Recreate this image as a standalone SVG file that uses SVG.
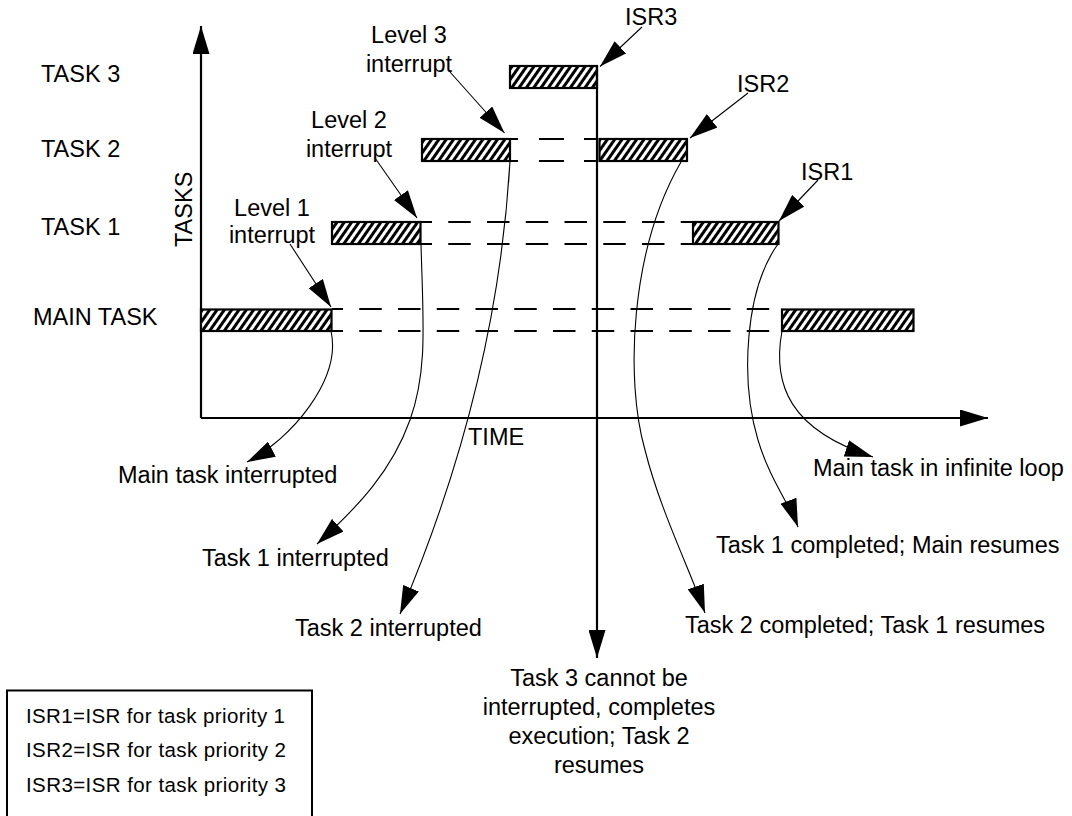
<svg xmlns="http://www.w3.org/2000/svg" width="1072" height="816" viewBox="0 0 1072 816">
<style>
text{font-family:"Liberation Sans",Arial,Helvetica,sans-serif;font-size:23.5px;fill:#000}
.leg{font-size:20.5px}
.bar{fill:url(#hatch);stroke:#000;stroke-width:2.2}
.axis{stroke:#000;stroke-width:2.2;fill:none}
.dash{stroke:#000;stroke-width:2;fill:none;stroke-dasharray:22.5 16.25;stroke-dashoffset:11.5}
.thin{stroke:#000;stroke-width:1.1;fill:none}
</style>
<defs>
<pattern id="hatch" patternUnits="userSpaceOnUse" width="6" height="6" patternTransform="rotate(35)">
<rect x="0" y="0" width="6" height="6" fill="#fff"/>
<rect x="0" y="0" width="3" height="6" fill="#000"/>
</pattern>
<marker id="ah" markerUnits="userSpaceOnUse" viewBox="0 0 28 17" markerWidth="28" markerHeight="17" refX="28" refY="8.5" orient="auto">
<path d="M0,0 L28,8.5 L0,17 z" fill="#000"/>
</marker>
</defs>

<g id="axes">
<line class="axis" x1="201" y1="418" x2="201" y2="26" marker-end="url(#ah)"/>
<line class="axis" x1="201" y1="418" x2="988" y2="418" marker-end="url(#ah)"/>
<text transform="translate(191.5,247) rotate(-90)">TASKS</text>
<text x="468" y="445">TIME</text>
</g>

<g id="labels">
<text x="41" y="82">TASK 3</text>
<text x="41" y="157">TASK 2</text>
<text x="41" y="235">TASK 1</text>
<text x="33" y="325">MAIN TASK</text>
</g>

<g id="dashed">
<path class="dash" d="M332,309 H782 M332,331 H782"/>
<path class="dash" d="M421,222 H693 M421,244 H693"/>
<path class="axis" stroke-width="2" d="M510,139 H518 M539,139 H564 M584,139 H597 M510,161 H518 M539,161 H564 M584,161 H597"/>
</g>

<g id="main-task"><rect class="bar" x="201" y="309.5" width="130.5" height="21.5"/></g>
<g id="task1"><rect class="bar" x="332" y="222" width="88.5" height="22"/></g>
<g id="task2"><rect class="bar" x="422" y="139" width="88" height="22"/></g>
<g id="task3"><rect class="bar" x="510" y="66" width="87" height="22"/></g>
<g id="task2-resumed"><rect class="bar" x="599.5" y="139" width="87.5" height="22"/></g>
<g id="task1-resumed"><rect class="bar" x="693" y="222" width="85.5" height="22"/></g>
<g id="main-resumed"><rect class="bar" x="782" y="309.5" width="131.5" height="21.5"/></g>

<g id="connectors">
<line class="axis" x1="597" y1="66" x2="597" y2="658" marker-end="url(#ah)"/>
<line class="thin" x1="450" y1="72" x2="504.5" y2="133" marker-end="url(#ah)"/>
<line class="thin" x1="375" y1="158" x2="417" y2="218" marker-end="url(#ah)"/>
<line class="thin" x1="290" y1="244" x2="331" y2="307" marker-end="url(#ah)"/>
<line class="thin" x1="642" y1="27" x2="600" y2="66.5" marker-end="url(#ah)"/>
<line class="thin" x1="748" y1="93" x2="690" y2="138" marker-end="url(#ah)"/>
<line class="thin" x1="818" y1="180" x2="779" y2="221" marker-end="url(#ah)"/>
<path class="thin" d="M331,331 C342,380 290,440 247,462" marker-end="url(#ah)"/>
<path class="thin" d="M421,244 C423,320 428,370 410,420 S360,505 317,544" marker-end="url(#ah)"/>
<path class="thin" d="M510,161 C502,300 470,450 400,614" marker-end="url(#ah)"/>
<path class="thin" d="M681,162 C630,250 625,380 645,450 C660,510 690,570 705,613" marker-end="url(#ah)"/>
<path class="thin" d="M778,244 C745,290 740,380 758,440 C770,480 790,505 798,527" marker-end="url(#ah)"/>
<path class="thin" d="M782,331 C772,385 790,430 873,457" marker-end="url(#ah)"/>
</g>

<g id="annotations">
<text x="409" y="43" text-anchor="middle">Level 3</text>
<text x="409" y="72" text-anchor="middle">interrupt</text>
<text x="349" y="128" text-anchor="middle">Level 2</text>
<text x="349" y="157" text-anchor="middle">interrupt</text>
<text x="272" y="216" text-anchor="middle">Level 1</text>
<text x="272" y="243" text-anchor="middle">interrupt</text>
<text x="625" y="25">ISR3</text>
<text x="737" y="92">ISR2</text>
<text x="801" y="180">ISR1</text>
<text x="118" y="483">Main task interrupted</text>
<text x="202" y="566">Task 1 interrupted</text>
<text x="295" y="636">Task 2 interrupted</text>
<text x="813" y="476">Main task in infinite loop</text>
<text x="716" y="553">Task 1 completed; Main resumes</text>
<text x="685" y="633">Task 2 completed; Task 1 resumes</text>
<text x="599" y="686" text-anchor="middle">Task 3 cannot be</text>
<text x="599" y="715" text-anchor="middle">interrupted, completes</text>
<text x="599" y="744" text-anchor="middle">execution; Task 2</text>
<text x="599" y="773" text-anchor="middle">resumes</text>
</g>

<g id="legend">
<rect x="7" y="690.5" width="305" height="140" fill="none" stroke="#000" stroke-width="2"/>
<text class="leg" x="26" y="723" textLength="259" lengthAdjust="spacing">ISR1=ISR for task priority 1</text>
<text class="leg" x="26" y="757" textLength="260" lengthAdjust="spacing">ISR2=ISR for task priority 2</text>
<text class="leg" x="26" y="791.5" textLength="260" lengthAdjust="spacing">ISR3=ISR for task priority 3</text>
</g>
</svg>
